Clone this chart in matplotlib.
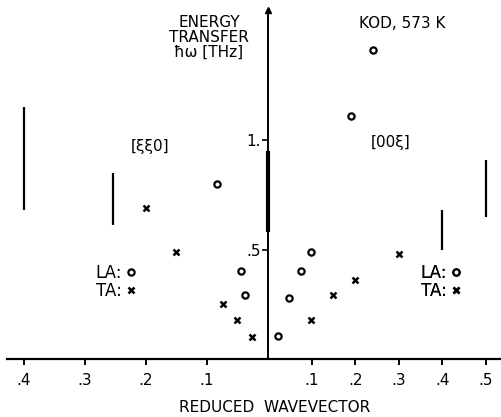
import matplotlib.pyplot as plt

# [xi xi 0] branch (left of the energy axis), reduced wavevector and THz
xx0_la_q = [0.084, 0.044, 0.038]
xx0_la_e = [0.80, 0.40, 0.29]
xx0_ta_q = [0.20, 0.151, 0.074, 0.051, 0.026]
xx0_ta_e = [0.69, 0.49, 0.25, 0.18, 0.10]

# [0 0 xi] branch (right of the energy axis)
oox_la_q = [0.023, 0.048, 0.075, 0.099, 0.19, 0.24]
oox_la_e = [0.105, 0.28, 0.40, 0.49, 1.11, 1.41]
oox_ta_q = [0.099, 0.149, 0.20, 0.30]
oox_ta_e = [0.18, 0.29, 0.36, 0.48]

# vertical bars: (q, e_low, e_high)
xx0_bars = [(0.40, 0.68, 1.15), (0.254, 0.61, 0.85)]
oox_bars = [(0.50, 0.65, 0.91), (0.40, 0.50, 0.68)]
axis_bar = (0.0, 0.58, 0.95)

xx0_ticks = [0.1, 0.2, 0.3, 0.4]
xx0_labels = [".1", ".2", ".3", ".4"]
oox_ticks = [0.1, 0.2, 0.3, 0.4, 0.5]
oox_labels = [".1", ".2", ".3", ".4", ".5"]
e_ticks = [0.5, 1.0]
e_labels = [".5", "1."]

# [xi xi 0] drawn on a stretched scale (sqrt2 in absolute units)
xx0_scale = 1.40

W, H = 501, 417
fig = plt.figure(figsize=(W / 100, H / 100), dpi=100)
plt.rcParams["font.family"] = "DejaVu Sans"

px_x = 436.0   # pixels per unit of [00xi]
px_y = 219.0   # pixels per THz
x0, y0 = 268, 359  # origin in pixels
ax_left, ax_top = 7, 10
ax = fig.add_axes([ax_left / W, 0, (W - ax_left) / W, 1 - ax_top / H])
ax.set_xlim((ax_left - x0) / px_x, (W - x0) / px_x)
ax.set_ylim(-(H - y0) / px_y, (y0 - ax_top) / px_y)

for s in ["top", "right"]:
    ax.spines[s].set_visible(False)
ax.spines["left"].set_position(("data", 0))
ax.spines["bottom"].set_position(("data", 0))
ax.spines["left"].set_bounds(0, (y0 - ax_top) / px_y)
ax.spines["left"].set_linewidth(1.4)
ax.spines["bottom"].set_linewidth(1.6)
# arrow head on top of the energy axis
ax.plot(0, 1, marker="^", color="black", markersize=5,
        transform=ax.get_xaxis_transform(), clip_on=False)

xt = [-q * xx0_scale for q in xx0_ticks] + oox_ticks
ax.set_xticks(xt)
ax.set_xticklabels(xx0_labels + oox_labels)
ax.set_yticks(e_ticks)
ax.set_yticklabels(e_labels)
ax.tick_params(axis="x", direction="out", length=4, width=1.4, pad=6,
               labelsize=11)
ax.tick_params(axis="y", direction="out", length=4, width=1.2, pad=1,
               labelsize=11)

mk_o = dict(marker="o", linestyle="none", markersize=4.5, markerfacecolor="white",
            markeredgecolor="black", markeredgewidth=1.6)
mk_x = dict(marker="x", linestyle="none", markersize=4.5, color="black",
            markeredgewidth=1.8)

ax.plot([-q * xx0_scale for q in xx0_la_q], xx0_la_e, **mk_o)
ax.plot([-q * xx0_scale for q in xx0_ta_q], xx0_ta_e, **mk_x)
ax.plot(oox_la_q, oox_la_e, **mk_o)
ax.plot(oox_ta_q, oox_ta_e, **mk_x)

for q, lo, hi in xx0_bars:
    ax.vlines(-q * xx0_scale, lo, hi, color="black", linewidth=1.6)
for q, lo, hi in oox_bars:
    ax.vlines(q, lo, hi, color="black", linewidth=1.6)
ax.vlines(axis_bar[0], axis_bar[1], axis_bar[2], color="black", linewidth=3.0)

# legends: "LA: o" / "TA: x" on both sides
h_la, = ax.plot([], [], **mk_o)
h_ta, = ax.plot([], [], **mk_x)
for cx in (116, 441):
    leg = ax.legend([h_la, h_ta], ["LA:", "TA:"], loc="center",
                    bbox_to_anchor=(cx / W, 1 - 282 / H),
                    bbox_transform=fig.transFigure, markerfirst=False,
                    frameon=False, fontsize=12, handlelength=0.7,
                    handletextpad=0.2, labelspacing=0.0, borderpad=0)
    ax.add_artist(leg)

fig.text(209 / W, 1 - 15 / H, "ENERGY\nTRANSFER\nħω [THz]", ha="center",
         va="top", multialignment="center", fontsize=11, linespacing=1.0)
fig.text(402 / W, 1 - 23 / H, "KOD, 573 K", ha="center", va="center",
         fontsize=11)
fig.text(150 / W, 1 - 146 / H, "[ξξ0]", ha="center", va="center", fontsize=11)
fig.text(391 / W, 1 - 142 / H, "[00ξ]", ha="center", va="center", fontsize=11)
fig.text(275 / W, 1 - 408 / H, "REDUCED  WAVEVECTOR", ha="center",
         va="center", fontsize=11)

fig.savefig("out.png", dpi=100)
